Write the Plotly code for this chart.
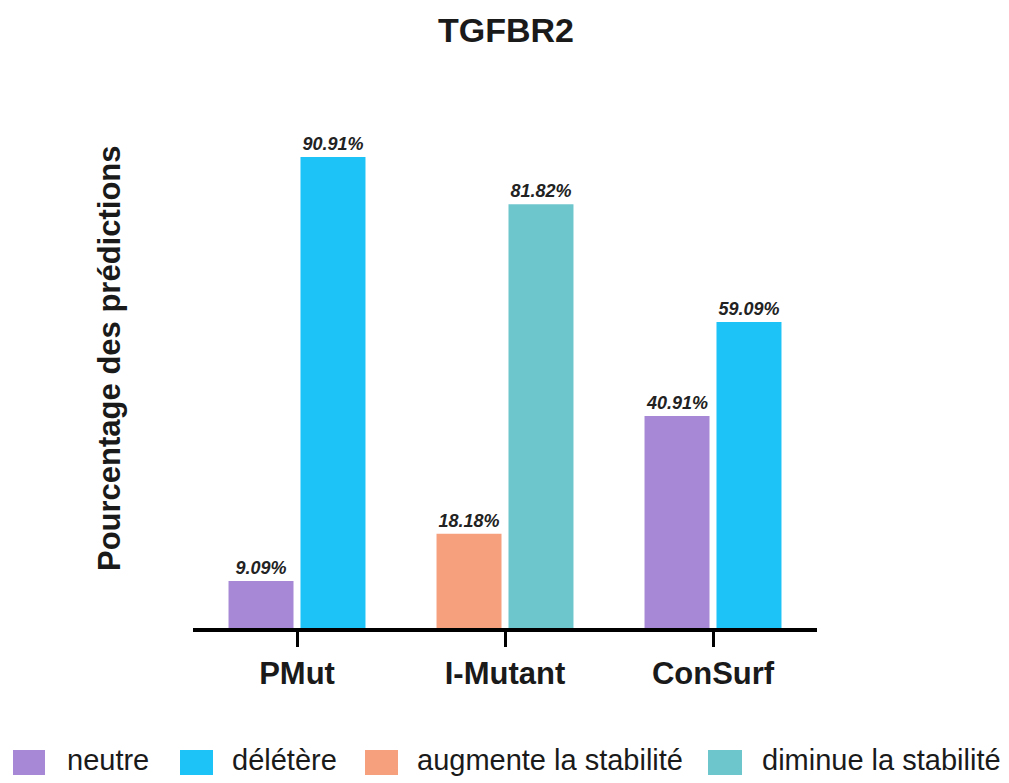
import plotly.graph_objects as go

# Prediction outcomes for TGFBR2 variants, by tool (percent of predictions)
categories = ["PMut", "I-Mutant", "ConSurf"]
series_names = ["neutre", "délétère", "augmente la stabilité", "diminue la stabilité"]
neutre = [9.09, None, 40.91]
deletere = [90.91, None, 59.09]
augmente = [None, 18.18, None]
diminue = [None, 81.82, None]

colors = ["#A688D6", "#1DC2F7", "#F7A07E", "#6EC6CD"]
slots = ["left", "right", "left", "right"]
values = [neutre, deletere, augmente, diminue]

W, H = 1009, 783
ML, MR, MT, MB = 193, 192, 110, 155
PW, PH = W - ML - MR, H - MT - MB

FONT = "Liberation Sans, Arial, sans-serif"


def px_x(px):
    return (px - ML) / PW


def px_y(py):
    return (H - MB - py) / PH


fig = go.Figure()
for name, vals, col, slot in zip(series_names, values, colors, slots):
    fig.add_trace(go.Bar(
        x=categories, y=vals, name=name,
        marker=dict(color=col, line=dict(width=0)),
        offsetgroup=slot, alignmentgroup="all",
        texttemplate="%{y:.2f}%", textposition="outside",
        textfont=dict(family=FONT, size=18, color="#222222", weight="bold", style="italic"),
        cliponaxis=False, showlegend=False,
    ))

# Legend drawn as coloured blocks with labels along the bottom edge
legend_boxes = [(13, 45), (180, 213), (365, 398), (708, 742)]
legend_text_x = [65, 230, 415, 760]
shapes = []
annotations = []
for (x0, x1), tx, name, col in zip(legend_boxes, legend_text_x, series_names, colors):
    shapes.append(dict(type="rect", xref="paper", yref="paper",
                       x0=px_x(x0), x1=px_x(x1), y0=px_y(775), y1=px_y(750),
                       fillcolor=col, line=dict(width=0)))
    annotations.append(dict(text=name, xref="paper", yref="paper",
                            x=px_x(tx), y=px_y(760), xanchor="left", yanchor="middle",
                            showarrow=False,
                            font=dict(family=FONT, size=29, color="#1a1a1a")))

# Y-axis title
annotations.append(dict(text="<b>Pourcentage des prédictions</b>", xref="paper", yref="paper",
                        x=px_x(109), y=px_y(358), xanchor="center", yanchor="middle",
                        textangle=-90, showarrow=False,
                        font=dict(family=FONT, size=31, color="#1a1a1a")))

fig.update_layout(
    width=W, height=H,
    margin=dict(l=ML, r=MR, t=MT, b=MB, autoexpand=False),
    paper_bgcolor="white", plot_bgcolor="white",
    barmode="group", bargap=0.308, bargroupgap=0.097,
    title=dict(text="<b>TGFBR2</b>", x=506 / W, xanchor="center",
               y=1 - 30 / H, yanchor="middle", yref="container",
               font=dict(family=FONT, size=34, color="#1a1a1a")),
    xaxis=dict(range=[-0.5, 2.5], showline=True, linewidth=4, linecolor="black",
               ticks="outside", ticklen=15, tickwidth=3, tickcolor="black",
               showgrid=False, zeroline=False,
               tickfont=dict(family=FONT, size=31, color="#1a1a1a", weight="bold")),
    yaxis=dict(range=[0, 100], visible=False),
    shapes=shapes, annotations=annotations,
)

fig.write_html("out.html")
